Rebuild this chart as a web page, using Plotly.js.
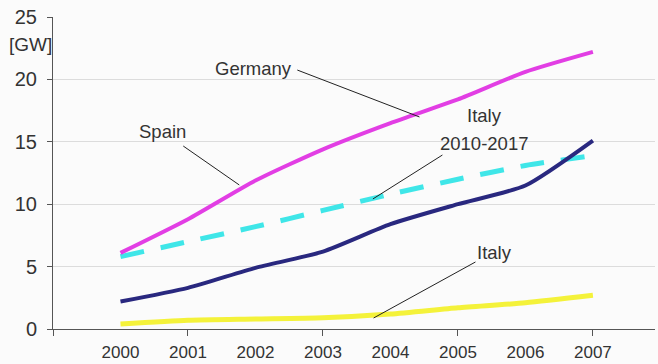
<!DOCTYPE html>
<html>
<head>
<meta charset="utf-8">
<script src="https://cdn.plot.ly/plotly-3.0.1.min.js"></script>
<style>html,body{margin:0;padding:0;background:#fbfbfb;}#chart{width:658px;height:364px;}</style>
</head>
<body>
<div id="chart"></div>
<script>
var years = [2000, 2001, 2002, 2003, 2004, 2005, 2006, 2007];
var germany = [6.1, 8.8, 11.9, 14.4, 16.5, 18.4, 20.6, 22.2];
var spain = [2.2, 3.3, 4.9, 6.2, 8.4, 10.0, 11.5, 15.1];
var italy = [0.4, 0.7, 0.8, 0.9, 1.2, 1.7, 2.1, 2.7];
var italy2010 = [5.8, 7.0, 8.2, 9.5, 10.8, 12.0, 13.1, 13.9];
var yTicks = [0, 5, 10, 15, 20, 25];
var xLabelYears = years;
var xTickYears = [1999, 2001, 2003, 2005, 2007];

var font = 'Liberation Sans, Arial, sans-serif';
var txt = '#333333';

function line(y, color, width, dash) {
  return {x: years, y: y, type: 'scatter', mode: 'lines',
    line: {color: color, width: width, shape: 'spline', smoothing: 0.6, dash: dash || 'solid'},
    hoverinfo: 'skip', showlegend: false};
}

var data = [
  line(italy, '#f4f23a', 5),
  line(italy2010, '#3fe6e8', 5, '24px,17px'),
  line(spain, '#29287f', 4),
  line(germany, '#e23ee4', 4)
];

function lbl(x, y, t) {
  return {x: x, y: y, xref: 'x', yref: 'y', text: t, showarrow: false,
    font: {family: font, size: 18.5, color: txt}, xanchor: 'center', yanchor: 'middle'};
}
function seg(x0, y0, x1, y1) {
  return {type: 'line', xref: 'x', yref: 'y', x0: x0, y0: y0, x1: x1, y1: y1,
    line: {color: '#222222', width: 1}};
}

var layout = {
  width: 658, height: 364,
  margin: {l: 53, r: 3, t: 17, b: 35},
  paper_bgcolor: '#fbfbfb', plot_bgcolor: '#fbfbfb',
  showlegend: false,
  xaxis: {
    range: [1999, 2007.92], tickvals: xTickYears, showticklabels: false,
    ticks: 'outside', ticklen: 6, tickcolor: '#555', tickwidth: 1,
    showline: true, linecolor: '#555', linewidth: 1, showgrid: false, zeroline: false, fixedrange: true
  },
  xaxis2: {
    overlaying: 'x', matches: 'x', side: 'bottom', tickvals: xLabelYears,
    ticktext: xLabelYears.map(String), ticks: 'outside', ticklen: 8, tickcolor: 'rgba(0,0,0,0)',
    showline: false, showgrid: false, zeroline: false,
    tickfont: {family: font, size: 17, color: txt}
  },
  yaxis: {
    range: [0, 25], tickvals: yTicks, ticks: 'outside', ticklen: 5, tickcolor: '#555',
    showline: true, linecolor: '#555', linewidth: 1, showgrid: true, gridcolor: '#dcdcdc', gridwidth: 1,
    zeroline: false, tickfont: {family: font, size: 20, color: txt}, ticklabelstandoff: 6, fixedrange: true
  },
  annotations: [
    lbl(2001.97, 20.91, 'Germany'),
    lbl(2000.62, 15.79, 'Spain'),
    lbl(2005.39, 17.07, 'Italy'),
    lbl(2005.39, 14.90, '2010-2017'),
    lbl(2005.54, 6.17, 'Italy'),
    {x: -0.038, y: 22.76, xref: 'paper', yref: 'y', text: '[GW]', showarrow: false,
      font: {family: font, size: 19, color: txt}, xanchor: 'center', yanchor: 'middle'}
  ],
  shapes: [
    seg(2002.62, 20.75, 2004.43, 16.99),
    seg(2000.93, 14.66, 2001.76, 11.54),
    seg(2004.77, 13.94, 2003.74, 10.42),
    seg(2005.26, 5.37, 2003.75, 0.88)
  ]
};

// dummy trace to make xaxis2 render
data.push({x: [2000], y: [null], xaxis: 'x2', type: 'scatter', mode: 'lines', showlegend: false, hoverinfo: 'skip'});

Plotly.newPlot('chart', data, layout, {staticPlot: true, displayModeBar: false});
</script>
</body>
</html>
